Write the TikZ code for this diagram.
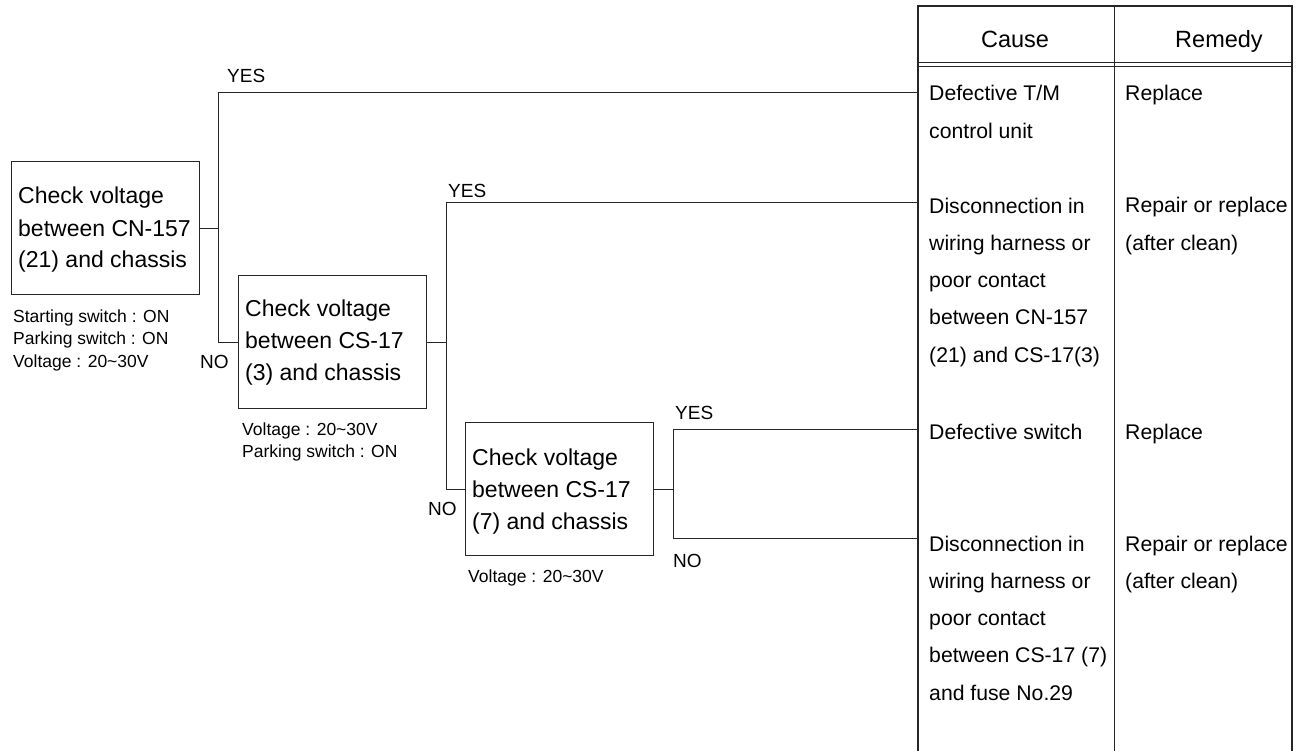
\documentclass[tikz,border=0pt]{standalone}
\usepackage{fontspec}
\setmainfont{Liberation Sans}
\begin{document}
\begin{tikzpicture}[x=1pt,y=-1pt,
  line/.style={draw=black!85, line width=1pt},
  box/.style={draw=black!85, line width=1.3pt, minimum width=188pt, minimum height=133pt, inner sep=0pt, anchor=north west},
  boxtext/.style={font=\fontsize{23}{32}\selectfont, align=left, anchor=base west, inner sep=0pt},
  note/.style={font=\fontsize{17.5}{22.5}\selectfont, align=left, anchor=base west, inner sep=0pt},
  yn/.style={font=\fontsize{19}{22}\selectfont, anchor=base west, inner sep=0pt},
  cell/.style={font=\fontsize{21.2}{37.3}\selectfont, align=left, anchor=base west, inner sep=0pt},
  head/.style={font=\fontsize{23.5}{28}\selectfont, anchor=base, inner sep=0pt},
  frame/.style={draw=black!85, line width=1.6pt}]
\useasboundingbox (0,0) rectangle (1303,751);

% decision boxes
\node[box] (b1) at (11,161) {};
\node[box] (b2) at (238,275) {};
\node[box] (b3) at (465,422) {};
% (multi-line nodes: base anchor = last line's baseline)
\node[boxtext] (b1t) at (18,268) {Check voltage\\between CN-157\\(21) and chassis};
\node[boxtext] (b2t) at (245,380) {Check voltage\\between CS-17\\(3) and chassis};
\node[boxtext] (b3t) at (472,529) {Check voltage\\between CS-17\\(7) and chassis};

% notes
\node[note] (n1) at (13,367) {Starting switch : ON\\Parking switch : ON\\Voltage : 20\textasciitilde30V};
\node[note] (n2) at (242,457.5) {Voltage : 20\textasciitilde30V\\Parking switch : ON};
\node[note] (n3) at (468,582) {Voltage : 20\textasciitilde30V};

% table
\draw[frame] (918,751) -- (918,6) -- (1292,6) -- (1292,751);
\draw[line] (1114,6) -- (1114,751);
\draw[line] (918,63) -- (1292,63);
\draw[line] (918,67) -- (1292,67);
\node[head] (hc) at (1015,48) {Cause};
\node[head, anchor=base west] (hr) at (1175,48) {Remedy};

\coordinate (r1) at (918,93);
\coordinate (r2) at (918,203);
\coordinate (r3) at (918,429);
\coordinate (r4) at (918,538);

\node[cell] (c1) at (929,138.3) {Defective T/M\\control unit};
\node[cell] (m1) at (1125,101) {Replace};
\node[cell] (c2) at (929,362.2) {Disconnection in\\wiring harness or\\poor contact\\between CN-157\\(21) and CS-17(3)};
\node[cell] (m2) at (1125,250.3) {Repair or replace\\(after clean)};
\node[cell] (c3) at (929,439) {Defective switch};
\node[cell] (m3) at (1125,439) {Replace};
\node[cell] (c4) at (929,700.2) {Disconnection in\\wiring harness or\\poor contact\\between CS-17 (7)\\and fuse No.29};
\node[cell] (m4) at (1125,588.3) {Repair or replace\\(after clean)};

% connectors
\path (b2.west) ++(-20,0) coordinate (k1);
\path (b3.west) ++(-19,0) coordinate (k2);
\path (b3.east) ++(19,0) coordinate (k3);
\draw[line] (b1.east) -- (b1.east -| k1);
\draw[line] (r1) -| (k1) -- (b2.west);
\draw[line] (b2.east) -- (b2.east -| k2);
\draw[line] (r2) -| (k2) -- (b3.west);
\draw[line] (b3.east) -- (k3);
\draw[line] (r3) -| (k3) |- (r4);

% labels
\node[yn] (yes1) at (227,83) {YES};
\node[yn] (yes2) at (448,198) {YES};
\node[yn] (yes3) at (675,419) {YES};
\node[yn] (no1) at (200,368) {NO};
\node[yn] (no2) at (428,515) {NO};
\node[yn] (no3) at (673,567) {NO};
\end{tikzpicture}
\end{document}
